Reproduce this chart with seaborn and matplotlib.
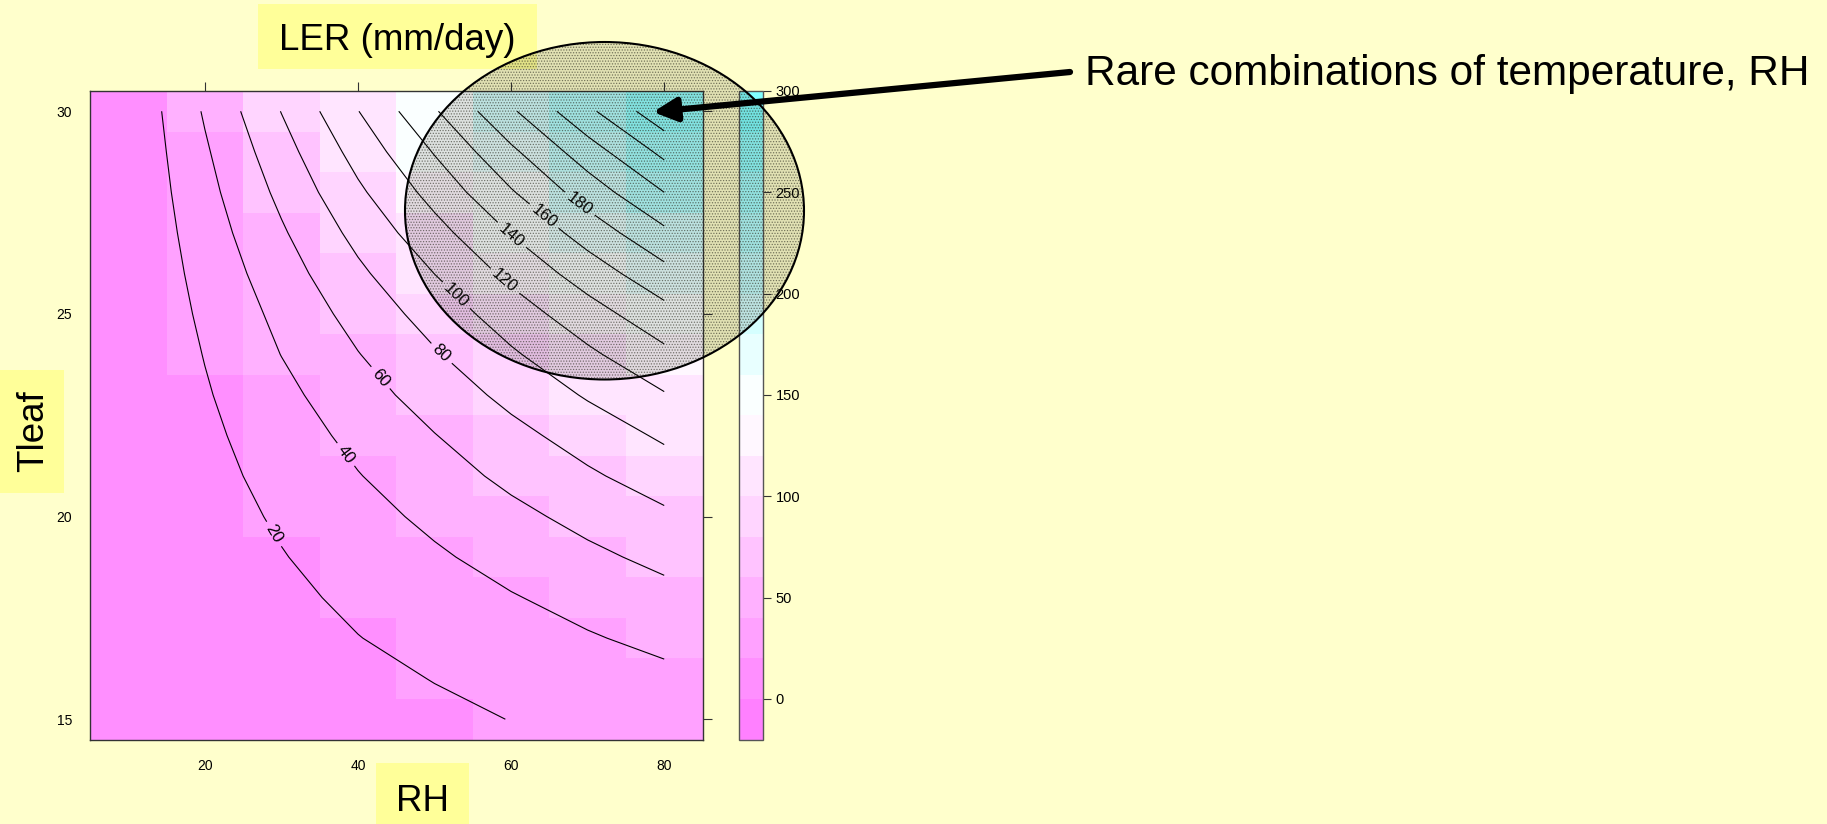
import numpy as np
import pandas as pd
import matplotlib
matplotlib.use("Agg")
import matplotlib.pyplot as plt
import seaborn as sns
from matplotlib.colors import ListedColormap
from matplotlib.patches import Rectangle, Ellipse, FancyArrowPatch

# ---------------- data ----------------
rh = [10, 20, 30, 40, 50, 60, 70, 80]
tleaf = [15, 16, 17, 18, 19, 20, 21, 22, 23, 24, 25, 26, 27, 28, 29, 30]
# LER (mm/day), one row per Tleaf value, columns follow rh
ler = [
    [0.3, 4.3, 8.3, 12.4, 16.3, 20.3, 24.3, 28.2],
    [0.4, 5.5, 10.5, 15.6, 20.5, 25.6, 30.6, 35.6],
    [0.5, 6.8, 13.1, 19.6, 25.8, 32.1, 38.4, 44.7],
    [0.6, 8.3, 15.9, 23.6, 31.1, 38.8, 46.4, 54.0],
    [0.7, 10.0, 19.1, 28.4, 37.4, 46.7, 55.8, 64.9],
    [0.8, 11.7, 22.5, 33.5, 44.1, 55.0, 65.7, 76.4],
    [1.0, 13.7, 26.3, 39.2, 51.7, 64.4, 77.0, 89.6],
    [1.1, 15.8, 30.3, 45.1, 59.4, 74.1, 88.5, 103.0],
    [1.3, 18.2, 34.9, 52.0, 68.4, 85.3, 102.0, 118.6],
    [1.5, 20.7, 40.3, 59.3, 78.1, 97.3, 116.3, 135.4],
    [1.7, 23.5, 45.0, 67.1, 88.3, 110.1, 131.6, 153.2],
    [1.9, 26.6, 51.0, 76.1, 100.2, 124.9, 149.3, 173.7],
    [2.1, 30.0, 57.6, 85.8, 113.0, 140.9, 168.4, 195.9],
    [2.4, 33.7, 64.6, 96.4, 126.9, 158.2, 189.1, 220.0],
    [2.7, 37.5, 72.0, 107.3, 141.3, 176.1, 210.5, 245.0],
    [3.0, 42.0, 80.5, 119.5, 158.0, 197.0, 235.5, 274.0],
]
x_ticks = [20, 40, 60, 80]
y_ticks = [15, 20, 25, 30]
cbar_ticks = [0, 50, 100, 150, 200, 250, 300]
color_breaks = list(range(-20, 301, 20))
contour_levels = list(range(20, 261, 20))
labelled_levels = list(range(20, 181, 20))
# (RH, Tleaf) where each contour label sits
label_spots = [(29.3, 19.6), (38.9, 21.6), (43.4, 23.5), (51.3, 24.1), (53.3, 25.55),
               (59.6, 25.9), (60.5, 27.05), (64.7, 27.5), (69.3, 27.8)]

title_text = "LER (mm/day)"
xlabel_text = "RH"
ylabel_text = "Tleaf"
note_text = "Rare combinations of temperature, RH"

# ---------------- style ----------------
W, H = 1827, 824
BG = "#FFFFCC"
BOX = "#FFFF99"
regions = ["#FF80FF", "#FF8FFF", "#FFA1FF", "#FFB1FF", "#FFC3FF", "#FFD5FF",
           "#FFE5FF", "#FFF7FF", "#FAFFFF", "#E8FFFF", "#D5FFFF", "#C6FFFF",
           "#B4FFFF", "#A4FFFF", "#92FFFF", "#80FFFF"]

sns.set_style("white")
plt.rcParams["font.family"] = ["Liberation Sans", "DejaVu Sans"]
plt.rcParams["text.color"] = "black"
plt.rcParams["hatch.linewidth"] = 0.6

fig = plt.figure(figsize=(W / 100, H / 100), dpi=100, facecolor=BG)


def frac_box(x0, y0, x1, y1):
    return [x0 / W, 1 - y1 / H, (x1 - x0) / W, (y1 - y0) / H]


ax = fig.add_axes(frac_box(90, 91, 702.5, 739.5))
cax = fig.add_axes(frac_box(739, 91, 763, 739.5))

df = pd.DataFrame(ler, index=tleaf, columns=rh)
sns.heatmap(df, ax=ax, cbar_ax=cax, cmap=ListedColormap(regions),
            vmin=color_breaks[0], vmax=color_breaks[-1],
            xticklabels=False, yticklabels=False,
            cbar_kws={"ticks": cbar_ticks})
ax.set_ylim(0, len(tleaf))
ax.set_xlim(0, len(rh))
ax.set_xlabel("")
ax.set_ylabel("")


def xpos(v):
    return (np.asarray(v, dtype=float) - rh[0]) / (rh[1] - rh[0]) + 0.5


def ypos(v):
    return (np.asarray(v, dtype=float) - tleaf[0]) / (tleaf[1] - tleaf[0]) + 0.5


cs = ax.contour(xpos(rh), ypos(tleaf), np.array(ler), levels=contour_levels,
                colors="black", linewidths=0.8)
ax.clabel(cs, levels=labelled_levels, inline=True, fmt="%d", fontsize=12,
          manual=[(float(xpos(a)), float(ypos(b))) for a, b in label_spots])

ax.set_xticks(xpos(x_ticks))
ax.set_xticklabels([str(v) for v in x_ticks])
ax.set_yticks(ypos(y_ticks))
ax.set_yticklabels([str(v) for v in y_ticks], rotation=0)
ax.tick_params(axis="both", direction="out", length=6.5, width=0.8, color="#333333",
               labelcolor="black", labelsize=10, top=True, right=True,
               labeltop=False, labelright=False)
ax.tick_params(axis="x", pad=7.4)
ax.tick_params(axis="y", pad=6.2)
for s in ax.spines.values():
    s.set_visible(True)
    s.set_color("#333333")
    s.set_linewidth(1.0)

cbar = ax.collections[0].colorbar
cbar.outline.set_linewidth(1.0)
cbar.outline.set_edgecolor("#555555")
cax.tick_params(length=5.4, width=0.8, pad=3.6, labelsize=10.5, color="#333333",
                labelcolor="black")

# ---------------- labels with yellow boxes ----------------
for (x0, y0, x1, y1) in [(258, 4, 537, 69), (376, 763, 469, 824), (0, 370, 64, 493)]:
    fig.add_artist(Rectangle((x0 / W, 1 - y1 / H), (x1 - x0) / W, (y1 - y0) / H,
                             transform=fig.transFigure, facecolor=BOX,
                             edgecolor="none", zorder=1))

fig.text(397 / W, 1 - 50 / H, title_text, ha="center", va="baseline", fontsize=26.5,
         color="black", zorder=2)
fig.text(422.5 / W, 1 - 811 / H, xlabel_text, ha="center", va="baseline", fontsize=26.5,
         color="black", zorder=2)
fig.text(34 / W, 1 - 431 / H, ylabel_text, ha="center", va="center", rotation=90,
         fontsize=26.5, color="black", zorder=2)
fig.text(1085 / W, 1 - 85 / H, note_text, ha="left", va="baseline", fontsize=30.5,
         color="black", zorder=2)

# ---------------- highlight ellipse and arrow ----------------
inch = fig.dpi_scale_trans
ell_center = (604.5 / 100, (H - 210.75) / 100)
ell_w, ell_h = 399 / 100, 337.5 / 100
fig.add_artist(Ellipse(ell_center, ell_w, ell_h, transform=inch,
                       facecolor=(0.1, 0.1, 0.05, 0.13), edgecolor="none",
                       linewidth=0, zorder=3))
fig.add_artist(Ellipse(ell_center, ell_w, ell_h, transform=inch,
                       facecolor="none", edgecolor=(0.15, 0.15, 0.1, 0.55),
                       linewidth=0, hatch="......", zorder=3.1))
fig.add_artist(Ellipse(ell_center, ell_w, ell_h, transform=inch,
                       facecolor="none", edgecolor="black", linewidth=1.5, zorder=3.2))

fig.add_artist(FancyArrowPatch((1070 / 100, (H - 72) / 100), (653 / 100, (H - 112) / 100),
                               transform=inch, arrowstyle="-|>,head_length=14,head_width=7",
                               mutation_scale=1, linewidth=4.5, color="black",
                               shrinkA=0, shrinkB=0, zorder=4))

fig.savefig("out.png", dpi=100, facecolor=BG)
